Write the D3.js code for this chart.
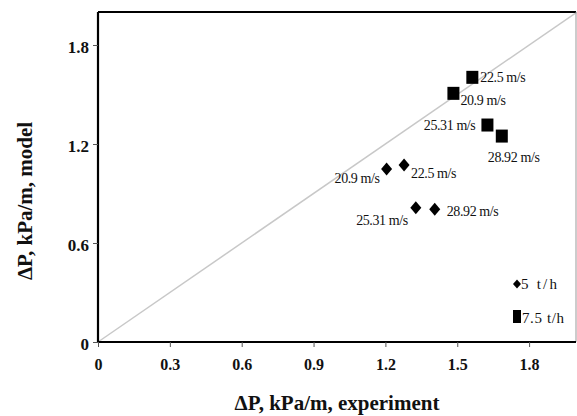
<!DOCTYPE html>
<html><head><meta charset="utf-8">
<script src="https://cdn.jsdelivr.net/npm/d3@7"></script>
<style>
html,body{margin:0;padding:0;background:#fff;}
svg{display:block;}
svg text{font-family:"Liberation Serif","Times New Roman",Times,Tinos,serif !important;}
</style></head>
<body><svg id="c" width="577" height="416"></svg>
<script>
// ---- data ----
const speeds = ["20.9 m/s", "22.5 m/s", "25.31 m/s", "28.92 m/s"];
const exp5 = [1.205, 1.278, 1.327, 1.406];
const model5 = [1.048, 1.073, 0.814, 0.804];
const exp75 = [1.484, 1.563, 1.626, 1.686];
const model75 = [1.507, 1.604, 1.315, 1.248];
const seriesNames = ["5 t/h", "7.5 t/h"];
const xTicks = [0, 0.3, 0.6, 0.9, 1.2, 1.5, 1.8];
const yTicks = [0, 0.6, 1.2, 1.8];
const xTitle = "ΔP, kPa/m, experiment";
const yTitle = "ΔP, kPa/m, model";

// ---- layout ----
const L = 98, R = 577, T = 12, B = 342;
const svg = d3.select("#c");
const x = d3.scaleLinear().domain([0, 2]).range([L, R]);
const y = d3.scaleLinear().domain([0, 2]).range([B, T]);

// diagonal y = x
svg.append("line")
  .attr("x1", x(0)).attr("y1", y(0)).attr("x2", x(2)).attr("y2", y(2))
  .attr("stroke", "#c8c8c8").attr("stroke-width", 1.5);

// frame
svg.append("line").attr("x1", L).attr("x2", 576).attr("y1", T).attr("y2", T)
  .attr("stroke", "#000").attr("stroke-width", 2.2);
svg.append("line").attr("x1", 576).attr("x2", 576).attr("y1", T).attr("y2", B)
  .attr("stroke", "#999").attr("stroke-width", 1);

// axes
const xAxis = d3.axisBottom(x).tickValues(xTicks).tickSize(5).tickPadding(12)
  .tickFormat(d => d === 0 ? "0" : d3.format(".1f")(d));
const gx = svg.append("g").attr("transform", `translate(0,${B})`).call(xAxis);
gx.select(".domain").attr("d", `M${L},0H576`).attr("stroke", "#000").attr("stroke-width", 2.2);
gx.selectAll(".tick line").attr("stroke", "#555").attr("stroke-width", 1);
gx.selectAll(".tick text").attr("font-weight", "bold")
  .attr("font-size", 16).attr("fill", "#111");

const yAxis = d3.axisLeft(y).tickValues(yTicks).tickSize(5).tickPadding(4)
  .tickFormat(d => d === 0 ? "0" : d3.format(".1f")(d));
const gy = svg.append("g").attr("transform", `translate(${L},0)`).call(yAxis);
gy.select(".domain").attr("d", `M0,${B}V${T}`).attr("stroke", "#000").attr("stroke-width", 2.2);
gy.selectAll(".tick line").attr("stroke", "#555").attr("stroke-width", 1);
gy.selectAll(".tick text").attr("font-weight", "bold")
  .attr("font-size", 17).attr("fill", "#111").attr("dy", "0.42em");

// titles
svg.append("text").attr("x", (L + 576) / 2).attr("y", 410).attr("text-anchor", "middle")
  .attr("font-weight", "bold").attr("font-size", 21).attr("fill", "#111").text(xTitle);
svg.append("text").attr("transform", `translate(32,201) rotate(-90)`).attr("text-anchor", "middle")
  .attr("font-weight", "bold").attr("font-size", 21).attr("fill", "#111").text(yTitle);

// markers
const diamond = (w, h) => `M0,${-h}L${w},0L0,${h}L${-w},0Z`;
const pts5 = speeds.map((s, i) => ({ s, x: exp5[i], y: model5[i] }));
const pts75 = speeds.map((s, i) => ({ s, x: exp75[i], y: model75[i] }));

svg.append("g").selectAll("path").data(pts5).join("path")
  .attr("d", diamond(5.5, 6.5))
  .attr("transform", d => `translate(${x(d.x)},${y(d.y)})`)
  .attr("fill", "#000");
svg.append("g").selectAll("rect").data(pts75).join("rect")
  .attr("x", d => x(d.x) - 6).attr("y", d => y(d.y) - 6.5)
  .attr("width", 12).attr("height", 13).attr("fill", "#000");

// point labels (offsets in px relative to marker)
const off5 = [[-7, 14, "end"], [7, 13, "start"], [-8, 17, "end"], [12, 7, "start"]];
const off75 = [[7, 12, "start"], [8, 5, "start"], [-12, 5, "end"], [-14, 26, "start"]];
function labels(pts, off) {
  svg.append("g").selectAll("text").data(pts).join("text")
    .attr("x", (d, i) => x(d.x) + off[i][0])
    .attr("y", (d, i) => y(d.y) + off[i][1])
    .attr("text-anchor", (d, i) => off[i][2])
    .attr("font-size", 14).attr("letter-spacing", -0.4).attr("fill", "#111")
    .text(d => d.s);
}
labels(pts5, off5);
labels(pts75, off75);

// legend
const lg = svg.append("g");
lg.append("path").attr("d", diamond(4, 4.5)).attr("transform", "translate(517,284)").attr("fill", "#000");
lg.append("text").attr("x", 521).attr("y", 289).attr("font-size", 15)
  .attr("letter-spacing", 2.2).attr("fill", "#111").text(seriesNames[0]);
lg.append("rect").attr("x", 513).attr("y", 310).attr("width", 8).attr("height", 13).attr("fill", "#000");
lg.append("text").attr("x", 522).attr("y", 323).attr("font-size", 15)
  .attr("letter-spacing", 0.6).attr("fill", "#111").text(seriesNames[1]);
</script></body></html>
